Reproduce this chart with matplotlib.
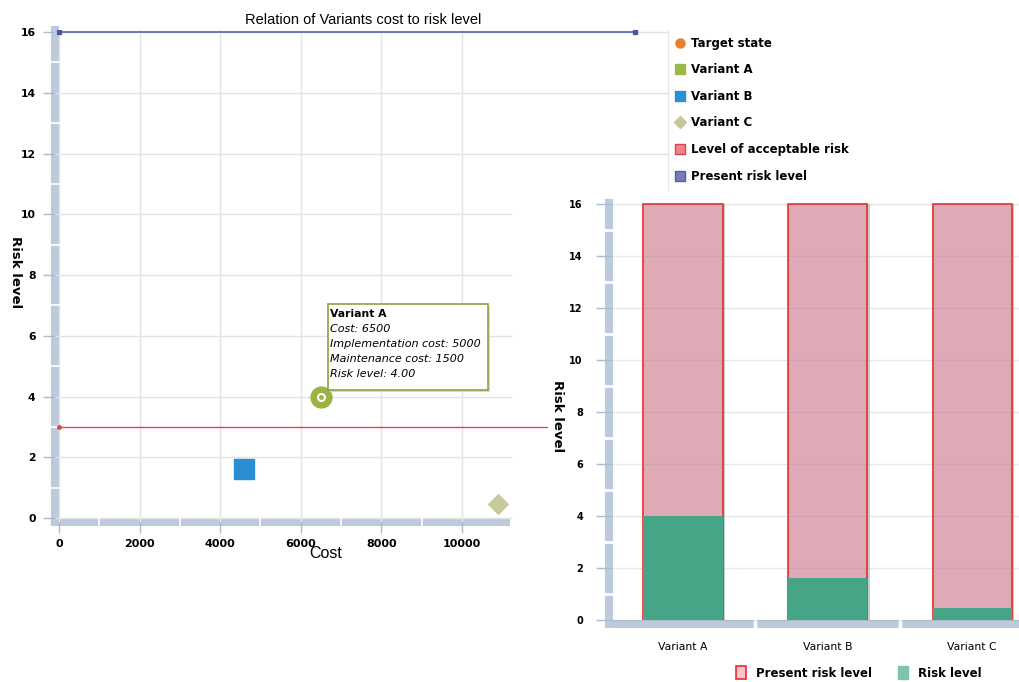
import matplotlib.pyplot as plt
from matplotlib.patches import Rectangle, Patch
from matplotlib.lines import Line2D
from matplotlib.transforms import IdentityTransform
from matplotlib.ticker import MultipleLocator, FixedLocator

# data
variants = ['Variant A', 'Variant B', 'Variant C']
variant_cost = [6500, 4600, 10900]
variant_risk = [4.0, 1.6, 0.45]
implementation_cost_a = 5000
maintenance_cost_a = 1500
acceptable_risk = 3
present_risk = 16
line_cost = [0, 14300]
cost_ticks = [0, 2000, 4000, 6000, 8000, 10000]
risk_ticks = [0, 2, 4, 6, 8, 10, 12, 14, 16]
bar_present = [16, 16, 16]

W, H = 1019, 682
BAND = '#bccbdc'
TICK = '#a9bbd0'
NARROW = ['Liberation Sans', 'DejaVu Sans']


def px_rect(l, t, r, b):
    # pixel box (from top-left) -> figure fraction rect
    return [l / W, 1 - b / H, (r - l) / W, (b - t) / H]


fig = plt.figure(figsize=(W / 100, H / 100), dpi=100)

# ---------- scatter: cost vs risk ----------
ax = fig.add_axes(px_rect(55, 30, 668, 522))
ax.set_xlim(-99, 15112)
ax.set_ylim(-0.13, 16.07)

for side in ['left', 'bottom']:
    ax.spines[side].set_color(BAND)
    ax.spines[side].set_linewidth(5.8)
    ax.spines[side].set_zorder(1)
ax.spines['bottom'].set_bounds(-99, 11100)
ax.spines['top'].set_visible(False)
ax.spines['right'].set_color('#e6e6e6')
ax.spines['right'].set_linewidth(0.8)
ax.spines['right'].set_bounds(10.8, 16.07)

ax.xaxis.set_major_locator(FixedLocator(cost_ticks))
ax.yaxis.set_major_locator(FixedLocator(risk_ticks))
ax.xaxis.set_minor_locator(FixedLocator([1000, 3000, 5000, 7000, 9000]))
ax.yaxis.set_minor_locator(FixedLocator([1, 3, 5, 7, 9, 11, 13, 15]))
ax.tick_params(axis='y', which='major', direction='out', length=8.5, width=1,
               color=TICK, pad=5.5, labelsize=7.8)
ax.tick_params(axis='x', which='major', direction='out', length=8, width=1,
               color=TICK, pad=4, labelsize=8)
ax.tick_params(which='minor', direction='inout', length=7.5, width=1.2, color='white')
for lab in ax.get_xticklabels() + ax.get_yticklabels():
    lab.set_fontweight('bold')

ax.grid(axis='x', color='#e3e3e3', lw=1)
for r in risk_ticks:
    ax.axhline(r, xmax=1 if r >= 12 else 0.744, color='#e3e3e3', lw=1, zorder=1.5)

ax.plot(line_cost, [acceptable_risk] * 2, color='#e0484f', lw=1, marker='o',
        markersize=2.5, zorder=3)
ax.plot(line_cost, [present_risk] * 2, color='#4b56a0', lw=1.1, marker='s',
        markersize=3, zorder=3)

# variant A: ring marker, B: square, C: diamond
ax.scatter(variant_cost[0], variant_risk[0], s=225, marker='o', color='#9ab443', zorder=4)
ax.scatter(variant_cost[0], variant_risk[0], s=30, marker='o', color='white', zorder=5)
ax.scatter(variant_cost[0], variant_risk[0], s=6, marker='o', color='#9ab443', zorder=6)
ax.scatter(variant_cost[1], variant_risk[1], s=225, marker='s', color='#2a8fd0', zorder=4)
ax.scatter(variant_cost[2], variant_risk[2], s=100, marker='D', color='#c8c99c', zorder=4)

fig.text(363 / W, 1 - 20 / H, 'Relation of Variants cost to risk level', ha='center',
         va='center', fontsize=10.5, family=NARROW)
fig.text(326 / W, 1 - 553 / H, 'Cost', ha='center', va='center', fontsize=11.5,
         family=NARROW)
fig.text(15 / W, 1 - 272 / H, 'Risk level', ha='center', va='center', rotation=-90,
         fontsize=9.5, fontweight='bold')

# tooltip for variant A
px, py = ax.transData.transform((variant_cost[0], variant_risk[0]))
fig.add_artist(Rectangle((px + 9, py + 5), 160, 86, transform=IdentityTransform(),
                         fc='#d8d8d8', ec='none', zorder=2))
fig.add_artist(Rectangle((px + 7, py + 7), 160, 86, transform=IdentityTransform(),
                         fc='white', ec='#8aa53f', lw=1.2, zorder=3))
tip_lines = ['Cost: %d' % variant_cost[0],
             'Implementation cost: %d' % implementation_cost_a,
             'Maintenance cost: %d' % maintenance_cost_a,
             'Risk level: %.2f' % variant_risk[0]]
fig.text(px + 9, py + 83, variants[0], transform=IdentityTransform(), fontsize=7.8,
         fontweight='bold', va='center', zorder=4)
for i, t in enumerate(tip_lines):
    fig.text(px + 9, py + 68 - 15.3 * i, t, transform=IdentityTransform(),
             fontsize=8, style='italic', va='center', zorder=4)

# legend of the scatter
leg_handles = [
    Line2D([], [], ls='none', marker='o', ms=6.5, color='#e8802a'),
    Line2D([], [], ls='none', marker='s', ms=7.5, color='#9bb84a'),
    Line2D([], [], ls='none', marker='s', ms=7.5, color='#2a8fd3'),
    Line2D([], [], ls='none', marker='D', ms=6, color='#c5c69c'),
    Line2D([], [], ls='none', marker='s', ms=7.5, color='#f1818a', mec='#e04050'),
    Line2D([], [], ls='none', marker='s', ms=7.5, color='#7a7bbb', mec='#5a5c9c'),
]
leg_labels = ['Target state', 'Variant A', 'Variant B', 'Variant C',
              'Level of acceptable risk', 'Present risk level']
fig.legend(leg_handles, leg_labels, loc='upper left', bbox_to_anchor=(666 / W, 1 - 28.5 / H),
           frameon=False, prop={'size': 8.5, 'weight': 'bold'}, labelspacing=1.15,
           handlelength=0.9, handletextpad=0.5, borderpad=0.2)

# ---------- bar chart: risk per variant ----------
cover = Rectangle((548 / W, 0), 1 - 548 / W, (682 - 192) / H, transform=fig.transFigure,
                  fc='white', ec='none', zorder=1)
fig.add_artist(cover)

bax = fig.add_axes(px_rect(609, 203, 1019, 624))
bax.set_zorder(2)
bax.patch.set_alpha(0)
bax.set_xlim(-0.512, 2.325)
bax.set_ylim(-0.154, 16.04)
xpos = list(range(len(variants)))
# soft shadow on the right of each column
bax.bar([x + 0.02 for x in xpos], bar_present, width=0.547, color='#c3cfcf', zorder=0.8)
bax.bar(xpos, bar_present, width=0.547, color='#dfaab6', edgecolor='#ee2a2a', lw=1.2, zorder=1)
bax.bar(xpos, variant_risk, width=0.547, color='#46a586', zorder=3)
bax.set_axisbelow(False)
bax.grid(axis='y', color='#888888', alpha=0.2, lw=1)

for side in ['left', 'bottom']:
    bax.spines[side].set_color(BAND)
    bax.spines[side].set_linewidth(5.8)
    bax.spines[side].set_zorder(1.2)
bax.spines['top'].set_visible(False)
bax.spines['right'].set_visible(False)

bax.set_xticks(xpos)
bax.set_xticklabels(variants)
bax.yaxis.set_major_locator(MultipleLocator(2))
bax.yaxis.set_minor_locator(FixedLocator([1, 3, 5, 7, 9, 11, 13, 15]))
bax.xaxis.set_minor_locator(FixedLocator([0.5, 1.5]))
bax.tick_params(axis='y', which='major', direction='out', length=9.4, width=1,
                color=TICK, pad=9.4, labelsize=7)
bax.tick_params(axis='x', which='major', length=0, pad=13, labelsize=7.8)
bax.tick_params(which='minor', direction='inout', length=7.5, width=2, color='white')
bax.tick_params(axis='x', which='minor', width=2.5)
for lab in bax.get_yticklabels():
    lab.set_fontweight('bold')

fig.text(557 / W, 1 - 416 / H, 'Risk level', ha='center', va='center', rotation=-90,
         fontsize=9.5, fontweight='bold', zorder=3)

fig.legend([Patch(fc='#f7c6cf', ec='#ee2a2a', lw=1.2), Patch(fc='#7cc5a8', ec='#7cc5a8')],
           ['Present risk level', 'Risk level'], loc='center left',
           bbox_to_anchor=(729 / W, 1 - 673 / H), ncol=2, frameon=False,
           prop={'size': 8.5, 'weight': 'bold'}, handlelength=0.8, handleheight=1.3,
           handletextpad=0.9, columnspacing=2.2, borderpad=0.1)

fig.savefig('out.png', dpi=100)
